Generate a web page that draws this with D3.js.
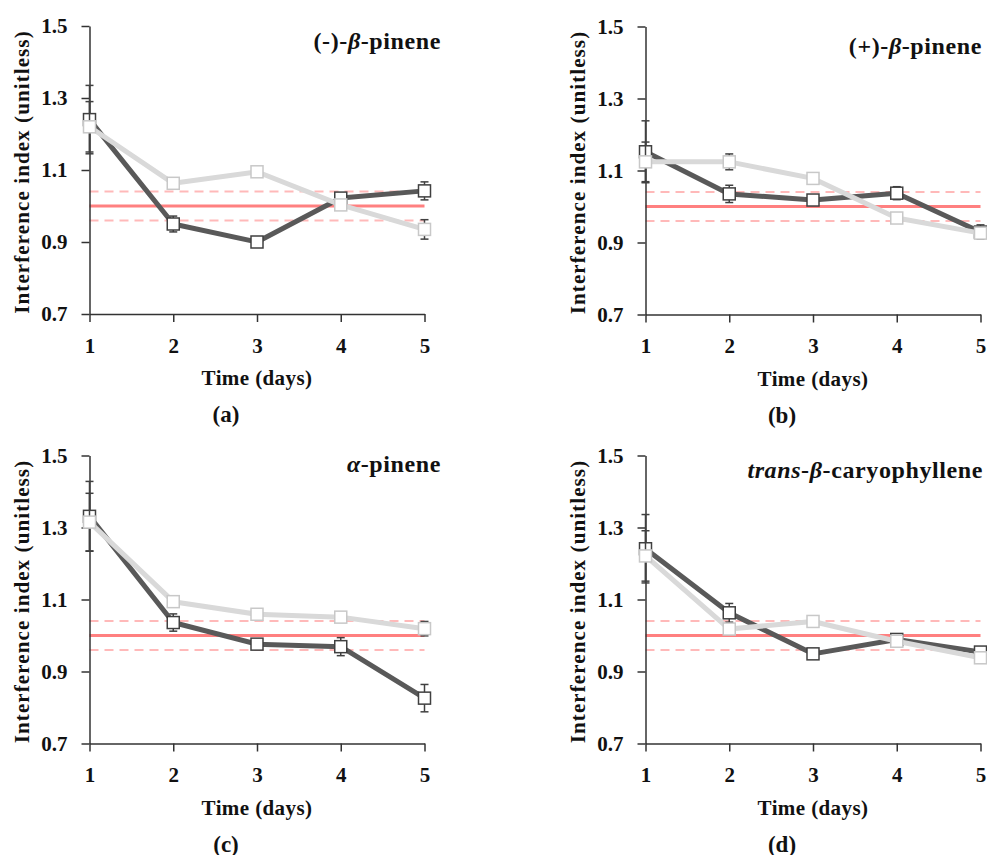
<!DOCTYPE html>
<html>
<head>
<meta charset="utf-8">
<script src="https://cdn.jsdelivr.net/npm/d3@7"></script>
<style>
  body { margin: 0; background: #fff; }
  text { font-family: 'Liberation Serif', 'Times New Roman', serif; font-weight: bold; fill: #111; }
</style>
</head>
<body>
<div id="chart"></div>
<script>
const days = [1, 2, 3, 4, 5];
const yTicks = [0.7, 0.9, 1.1, 1.3, 1.5];

// (a) (-)-beta-pinene
const darkA = [1.24, 0.95, 0.90, 1.022, 1.042];
const darkErrA = [0.095, 0.022, 0.006, 0.01, 0.025];
const lightA = [1.22, 1.063, 1.095, 1.003, 0.935];
const lightErrA = [0.07, 0.015, 0.01, 0.01, 0.027];

// (b) (+)-beta-pinene
const darkB = [1.152, 1.035, 1.018, 1.037, 0.929];
const darkErrB = [0.086, 0.024, 0.01, 0.018, 0.02];
const lightB = [1.124, 1.124, 1.078, 0.968, 0.926];
const lightErrB = [0.055, 0.022, 0.01, 0.01, 0.01];

// (c) alpha-pinene
const darkC = [1.331, 1.036, 0.976, 0.969, 0.826];
const darkErrC = [0.097, 0.024, 0.01, 0.025, 0.038];
const lightC = [1.315, 1.094, 1.059, 1.051, 1.019];
const lightErrC = [0.08, 0.01, 0.01, 0.01, 0.02];

// (d) trans-beta-caryophyllene
const darkD = [1.241, 1.063, 0.949, 0.989, 0.954];
const darkErrD = [0.095, 0.026, 0.01, 0.01, 0.01];
const lightD = [1.221, 1.018, 1.039, 0.984, 0.938];
const lightErrD = [0.07, 0.01, 0.015, 0.01, 0.015];

// reference band
const refLine = 1.0;
const refBand = [1.04, 0.96];

// titles: [text, italic]
const titleA = [['(-)-', false], ['β', true], ['-pinene', false]];
const titleB = [['(+)-', false], ['β', true], ['-pinene', false]];
const titleC = [['α', true], ['-pinene', false]];
const titleD = [['trans', true], ['-', false], ['β', true], ['-caryophyllene', false]];

const yLabel = 'Interference index (unitless)';
const xLabel = 'Time (days)';

const width = 987;
const height = 855;
const plotW = 335;
const plotH = 288;

const panels = [
  { tag: 'a', title: titleA, dark: darkA, darkErr: darkErrA, light: lightA, lightErr: lightErrA, left: 89.5, top: 26, titleX: 441, titleY: 49 },
  { tag: 'b', title: titleB, dark: darkB, darkErr: darkErrB, light: lightB, lightErr: lightErrB, left: 645.5, top: 26.5, titleX: 982, titleY: 54 },
  { tag: 'c', title: titleC, dark: darkC, darkErr: darkErrC, light: lightC, lightErr: lightErrC, left: 89.5, top: 455.5, titleX: 441, titleY: 472 },
  { tag: 'd', title: titleD, dark: darkD, darkErr: darkErrD, light: lightD, lightErr: lightErrD, left: 645.5, top: 455.5, titleX: 983, titleY: 478 }
];

const svg = d3.select('#chart')
  .append('svg')
  .attr('width', width)
  .attr('height', height);

svg.append('rect')
  .attr('width', width)
  .attr('height', height)
  .attr('fill', '#fff');

const drawPanel = p => {
  const x = d3.scaleLinear().domain([1, 5]).range([p.left, p.left + plotW]);
  const y = d3.scaleLinear().domain([0.7, 1.5]).range([p.top + plotH, p.top]);
  const g = svg.append('g');

  // reference lines
  g.append('line')
    .attr('x1', x(1)).attr('x2', x(5))
    .attr('y1', y(refLine)).attr('y2', y(refLine))
    .attr('stroke', '#ff8080')
    .attr('stroke-width', 3);
  g.selectAll('.band')
    .data(refBand)
    .join('line')
    .attr('x1', x(1)).attr('x2', x(5))
    .attr('y1', d => y(d)).attr('y2', d => y(d))
    .attr('stroke', '#ffb9b9')
    .attr('stroke-width', 2)
    .attr('stroke-dasharray', '9,6');

  // axes
  const yAxis = g.append('g')
    .attr('transform', `translate(${p.left},0)`)
    .call(d3.axisLeft(y).tickValues(yTicks).tickFormat(d3.format('.1f')).tickSize(8).tickSizeOuter(0).tickPadding(14));
  const xAxis = g.append('g')
    .attr('transform', `translate(0,${p.top + plotH})`)
    .call(d3.axisBottom(x).tickValues(days).tickFormat(d3.format('d')).tickSize(8).tickSizeOuter(0).tickPadding(16));
  [yAxis, xAxis].forEach(a => {
    a.selectAll('path, line').attr('stroke', '#333').attr('stroke-width', 1.5);
    a.selectAll('text')
      .attr('font-size', 21)
      .attr('font-family', "'Liberation Serif', serif")
      .attr('font-weight', 'bold')
      .attr('fill', '#111');
  });

  const series = [
    { vals: p.dark, err: p.darkErr, line: '#595959', mark: '#404040' },
    { vals: p.light, err: p.lightErr, line: '#d9d9d9', mark: '#c8c8c8' }
  ];
  const line = d3.line().x((d, i) => x(days[i])).y(d => y(d));

  series.forEach(s => {
    const pts = s.vals.map((v, i) => ({ day: days[i], v: v, e: s.err[i] }));
    const eb = g.append('g').attr('stroke', '#404040').attr('stroke-width', 1.5);
    eb.selectAll('.stem')
      .data(pts)
      .join('line')
      .attr('x1', d => x(d.day)).attr('x2', d => x(d.day))
      .attr('y1', d => y(d.v - d.e)).attr('y2', d => y(d.v + d.e));
    eb.selectAll('.capHi')
      .data(pts)
      .join('line')
      .attr('x1', d => x(d.day) - 4).attr('x2', d => x(d.day) + 4)
      .attr('y1', d => y(d.v + d.e)).attr('y2', d => y(d.v + d.e));
    eb.selectAll('.capLo')
      .data(pts)
      .join('line')
      .attr('x1', d => x(d.day) - 4).attr('x2', d => x(d.day) + 4)
      .attr('y1', d => y(d.v - d.e)).attr('y2', d => y(d.v - d.e));

    g.append('path')
      .datum(s.vals)
      .attr('d', line)
      .attr('fill', 'none')
      .attr('stroke', s.line)
      .attr('stroke-width', 5)
      .attr('stroke-linejoin', 'round');

    g.selectAll(null)
      .data(pts)
      .join('rect')
      .attr('x', d => x(d.day) - 6)
      .attr('y', d => y(d.v) - 6)
      .attr('width', 12)
      .attr('height', 12)
      .attr('fill', '#fff')
      .attr('stroke', s.mark)
      .attr('stroke-width', 1.5);
  });

  // title
  const t = g.append('text')
    .attr('x', p.titleX)
    .attr('y', p.titleY)
    .attr('text-anchor', 'end')
    .attr('font-size', 24)
    .attr('letter-spacing', 0.6);
  t.selectAll('tspan')
    .data(p.title)
    .join('tspan')
    .attr('font-style', d => d[1] ? 'italic' : 'normal')
    .text(d => d[0]);

  // axis labels
  g.append('text')
    .attr('transform', `translate(${p.left - 61},${p.top + plotH / 2 + 2}) rotate(-90)`)
    .attr('text-anchor', 'middle')
    .attr('font-size', 21)
    .attr('letter-spacing', 1.1)
    .text(yLabel);
  g.append('text')
    .attr('x', p.left + plotW / 2)
    .attr('y', p.top + plotH + 71)
    .attr('text-anchor', 'middle')
    .attr('font-size', 21)
    .attr('letter-spacing', 0.4)
    .text(xLabel);

  // panel tag
  const tag = g.append('text')
    .attr('x', p.left + plotW / 2 - 31)
    .attr('y', p.top + plotH + 108)
    .attr('text-anchor', 'middle')
    .attr('font-size', 23)
    .attr('font-weight', 'normal');
  tag.append('tspan').text('(');
  tag.append('tspan').attr('font-weight', 'bold').text(p.tag);
  tag.append('tspan').text(')');
};

panels.forEach(drawPanel);
</script>
</body>
</html>
